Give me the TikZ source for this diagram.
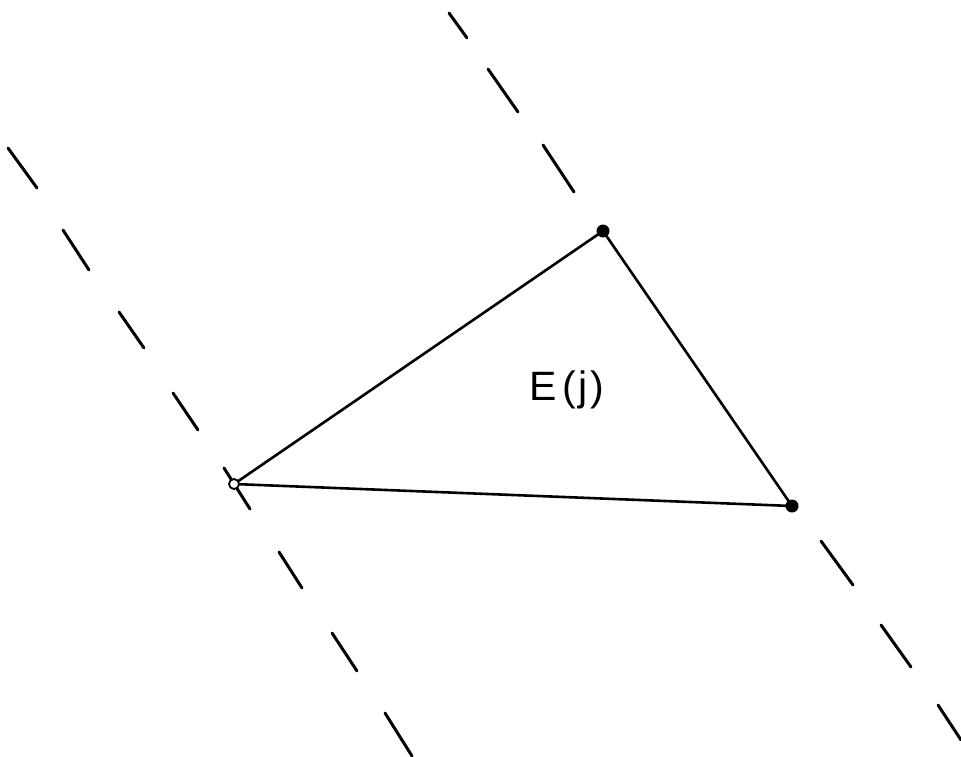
\documentclass[tikz,border=0pt]{standalone}
\usepackage{fontspec}
\setmainfont{Liberation Sans}
\begin{document}
\begin{tikzpicture}[x=1pt,y=-1pt,
  edge/.style={line width=2.6pt,line cap=round},
  dashseg/.style={line width=3pt,line cap=round},
  vdot/.style={circle,fill=black,inner sep=0pt,minimum size=13pt},
  vopen/.style={circle,draw=black,fill=white,line width=1.8pt,inner sep=0pt,minimum size=10pt},
  lbl/.style={font=\fontsize{41}{48}\selectfont}]
\useasboundingbox (0,0) rectangle (961,756);
% left dashed line
\foreach \a/\b in {{(8,148)/(37,188)},{(63,230)/(89,270)},{(119,312)/(144,348)},{(173,393)/(198,430)},{(224,468)/(250,509)},{(279,552)/(302,588)},{(332,633)/(357,671)},{(385,713)/(412,756)}}
  \draw[dashseg] \a -- \b;
% right dashed line
\foreach \a/\b in {{(449,13)/(467,38)},{(488,69)/(518,112)},{(543,145)/(574,192)},{(821,541)/(853,585)},{(881,625)/(911,667)},{(938,705)/(961,740)}}
  \draw[dashseg] \a -- \b;
% triangle
\coordinate (A) at (234,484);
\coordinate (B) at (603,231);
\coordinate (C) at (792,506);
\draw[edge] (A) -- (B) -- (C) -- cycle;
\node[vopen] (a) at (A) {};
\node[vdot] (b) at (B) {};
\node[vdot] (c) at (C) {};
\node[lbl] (lab) at (567,390) {E\kern6pt(\kern2pt j\kern3pt)};
\end{tikzpicture}
\end{document}
